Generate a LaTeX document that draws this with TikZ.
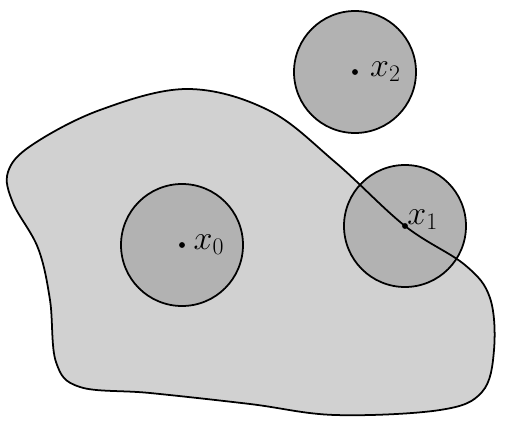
\RequirePackage{fix-cm}
\documentclass[tikz,border=0pt]{standalone}
\usepackage{amsmath,amssymb}
\usepackage{tikz}
\usetikzlibrary{positioning}

\tikzset{
	region/.style={fill=black!18},
	ball/.style={fill=black!30},
	edge/.style={line width=1.5pt},
	pt/.style={circle,fill=black,inner sep=0pt,minimum size=5pt},
	lbl/.style={font=\fontsize{29}{31}\selectfont,inner sep=0pt}
}

\begin{document}
\begin{tikzpicture}[x=0.03cm,y=-0.03cm]
	\useasboundingbox (0,0) rectangle (506,428);
	\coordinate (c0) at (182,245);
	\coordinate (c1) at (405,226);
	\coordinate (c2) at (355,72);
	% the set
	\path[save path=\blobpath] plot[smooth cycle, tension=0.6] coordinates {
		(8,172) (32,145) (100,110) (187,89) (268,110) (335,162)
		(405,226) (465,265) (490,298) (494,350) (482,392) (440,410)
		(335,415) (250,404) (150,393) (80,387) (56,362) (50,300)
		(38,248) (13,203)};
	\fill[region, use path=\blobpath];
	\fill[ball] (c0) circle[radius=61];
	\fill[ball] (c1) circle[radius=61];
	\fill[ball] (c2) circle[radius=61];
	\draw[edge, use path=\blobpath];
	\draw[edge] (c0) circle[radius=61];
	\draw[edge] (c1) circle[radius=61];
	\draw[edge] (c2) circle[radius=61];
	% points and labels
	\node[pt] (x0) at (c0) {};
	\node[pt] (x1) at (c1) {};
	\node[pt] (x2) at (c2) {};
	\node[lbl, right=7pt of x0] (l0) {$x_0$};
	\node[lbl, above right=-5pt and 0pt of x1] (l1) {$x_1$};
	\node[lbl, right=10pt of x2] (l2) {$x_2$};
\end{tikzpicture}
\end{document}
